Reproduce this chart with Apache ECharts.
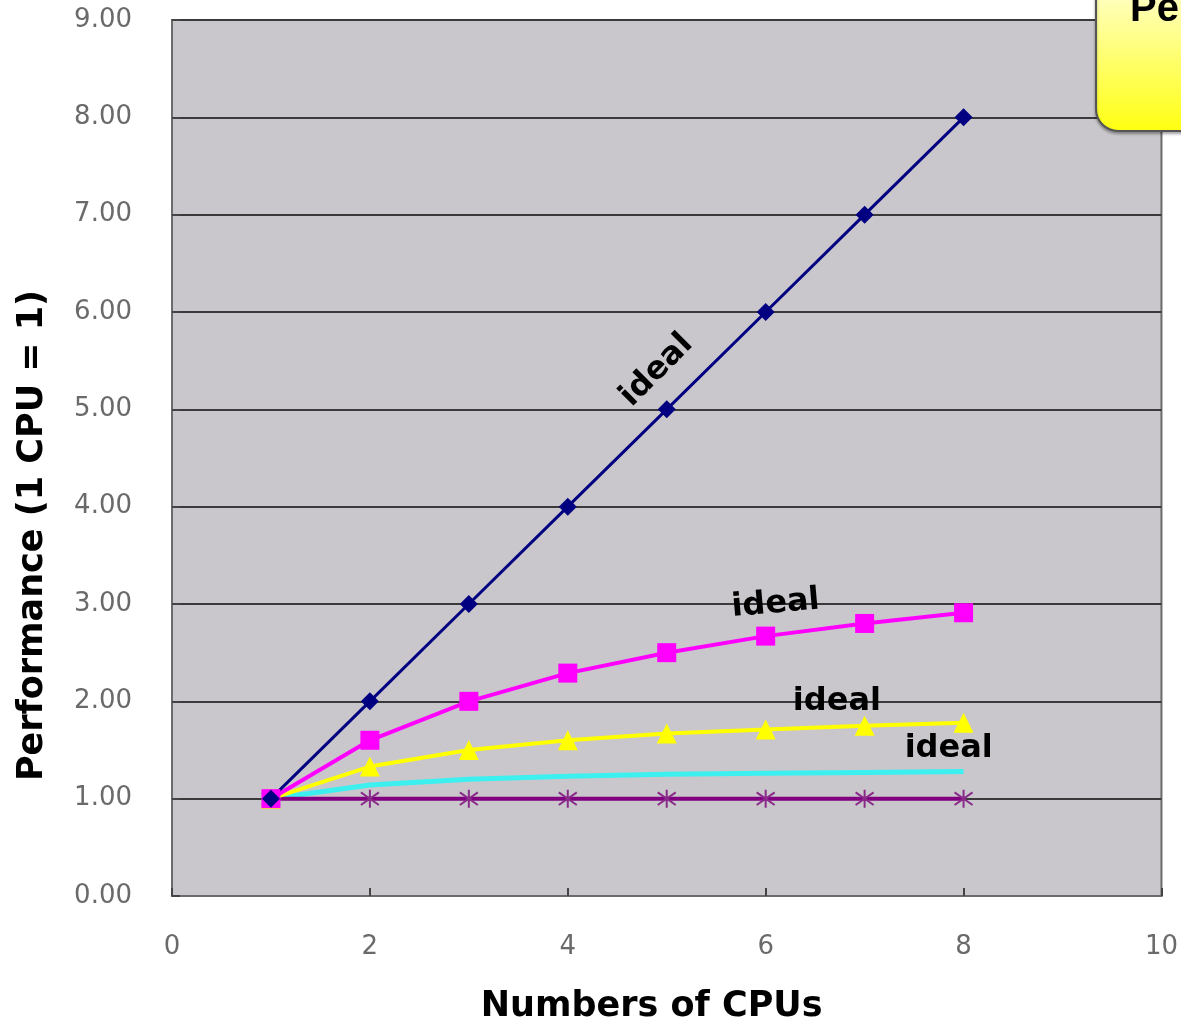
<!DOCTYPE html>
<html><head><meta charset="utf-8">
<script src="https://cdn.jsdelivr.net/npm/echarts@6/dist/echarts.min.js"></script>
<style>html,body{margin:0;padding:0;background:#fff}#c{width:1181px;height:1029px}</style>
</head><body><div id="c"></div>
<script>
const cpus = [1, 2, 3, 4, 5, 6, 7, 8];
const navyVals = [1, 2, 3, 4, 5, 6, 7, 8];
const magentaVals = [1, 1.60, 2.00, 2.29, 2.50, 2.67, 2.80, 2.91];
const yellowVals = [1, 1.33, 1.50, 1.60, 1.67, 1.71, 1.75, 1.78];
const cyanVals = [1, 1.14, 1.20, 1.23, 1.25, 1.26, 1.27, 1.28];
const purpleVals = [1, 1, 1, 1, 1, 1, 1, 1];
const labelText = 'ideal';
const labelPos = [[4.9, 5.4, 45], [6.1, 3.0, 5], [6.72, 2.0, 0], [7.85, 1.51, 0]];

const pair = v => cpus.map((c, i) => [c, v[i]]);
const asterisk = 'path://M0,-10L0,10M-7,-7L7,7M-7,7L7,-7';
function lbl(p) {
  return {
    symbol: 'circle', symbolSize: 0,
    data: [{ coord: [p[0], p[1]], value: labelText }],
    label: { show: true, position: 'inside', formatter: labelText, rotate: p[2],
      color: '#000', fontSize: 32, fontFamily: 'DejaVu Sans', fontWeight: 'bold' }
  };
}
const tickFont = { fontSize: 26, color: '#6a6a6a', fontFamily: 'DejaVu Sans' };
const chart = echarts.init(document.getElementById('c'));
chart.setOption({
  animation: false,
  grid: { left: 172, right: 18, top: 20, bottom: 132, show: true,
    backgroundColor: '#c9c7cb', borderColor: '#6b6b6b', borderWidth: 2 },
  xAxis: { type: 'value', min: 0, max: 10, interval: 2,
    name: 'Numbers of CPUs', nameLocation: 'middle', nameGap: 93,
    nameTextStyle: { fontSize: 35, color: '#000', fontFamily: 'DejaVu Sans', fontWeight: 'bold', padding: [0, 30, 0, 0] },
    axisLine: { show: true, lineStyle: { color: '#6b6b6b', width: 2 } },
    axisTick: { show: true, inside: true, length: 8, lineStyle: { color: '#444', width: 2 } },
    axisLabel: Object.assign({ margin: 38 }, tickFont),
    splitLine: { show: false } },
  yAxis: { type: 'value', min: 0, max: 9, interval: 1,
    name: 'Performance (1 CPU = 1)', nameLocation: 'middle', nameGap: 122,
    nameTextStyle: { fontSize: 35, color: '#000', fontFamily: 'DejaVu Sans', fontWeight: 'bold', padding: [0, 155, 0, 0] },
    axisLine: { show: true, lineStyle: { color: '#6b6b6b', width: 2 } },
    axisTick: { show: true, inside: true, length: 8, lineStyle: { color: '#444', width: 2 } },
    axisLabel: Object.assign({ margin: 40, formatter: v => v.toFixed(2) }, tickFont),
    splitLine: { show: true, lineStyle: { color: '#3a3a3a', width: 2 } } },
  series: [
    { type: 'line', data: pair(cyanVals), symbol: 'none', lineStyle: { color: '#3cf0f0', width: 5 },
      itemStyle: { color: '#3cf0f0' }, markPoint: lbl(labelPos[3]) },
    { type: 'line', data: pair(purpleVals), symbol: asterisk, symbolSize: 18,
      lineStyle: { color: '#800080', width: 4 },
      itemStyle: { color: 'none', borderColor: '#8a2a8a', borderWidth: 2 } },
    { type: 'line', data: pair(yellowVals), symbol: 'triangle', symbolSize: 20,
      lineStyle: { color: '#ffff00', width: 4 }, itemStyle: { color: '#ffff00' }, markPoint: lbl(labelPos[2]) },
    { type: 'line', data: pair(magentaVals), symbol: 'rect', symbolSize: 19,
      lineStyle: { color: '#ff00ff', width: 4 }, itemStyle: { color: '#ff00ff' }, markPoint: lbl(labelPos[1]) },
    { type: 'line', data: pair(navyVals), symbol: 'diamond', symbolSize: 18,
      lineStyle: { color: '#000080', width: 3 }, itemStyle: { color: '#000080' }, markPoint: lbl(labelPos[0]) }
  ],
  graphic: [
    { type: 'rect', left: 1095, top: -30, z: 100,
      shape: { width: 200, height: 160, r: 22 },
      style: { fill: { type: 'linear', x: 0, y: 0, x2: 0, y2: 1,
        colorStops: [{ offset: 0, color: '#ffffe0' }, { offset: 1, color: '#ffff10' }] },
        stroke: '#555', lineWidth: 2, shadowColor: 'rgba(0,0,0,0.3)', shadowBlur: 3, shadowOffsetY: 2 } },
    { type: 'text', left: 1130, top: -10, z: 101,
      style: { text: 'Performance', fill: '#000', font: 'bold 40px "Liberation Sans", Arial' } }
  ]
});
</script></body></html>
